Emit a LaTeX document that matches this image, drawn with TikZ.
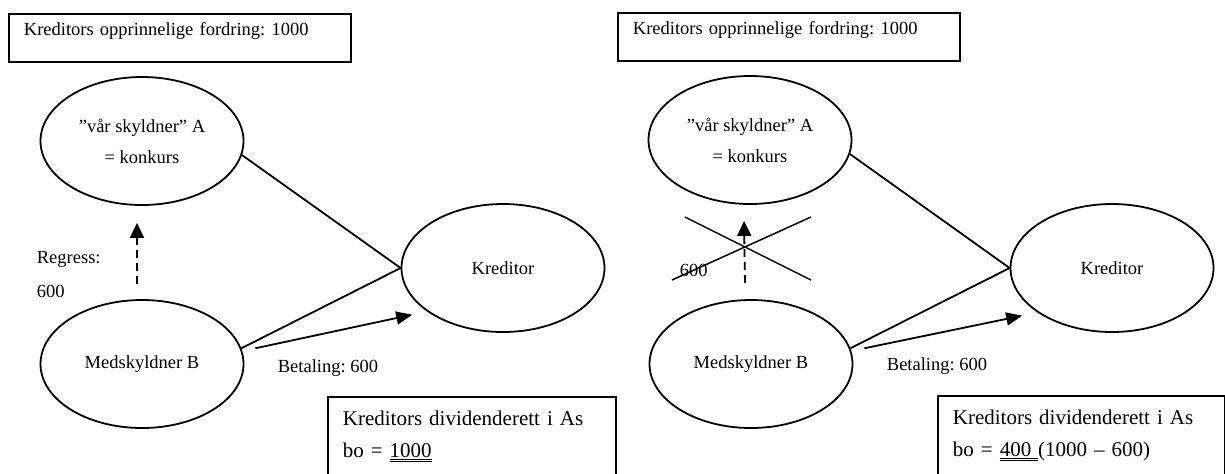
\documentclass[tikz,border=0pt]{standalone}
\usepackage{fontspec}
\setmainfont{Liberation Serif}
\usetikzlibrary{arrows.meta,shapes.geometric}
\frenchspacing

\newcommand{\dbl}[1]{\setbox0\hbox{#1}\leavevmode\rlap{\rule[-1.1pt]{\wd0}{0.5pt}}\rlap{\rule[-2.4pt]{\wd0}{0.5pt}}\box0}

\begin{document}
\begin{tikzpicture}[x=0.5pt, y=-0.5pt, line width=0.9pt,
    every node/.style={font=\fontsize{9.25}{15.5}\selectfont},
    ell/.style={draw, ellipse, minimum width=101.5pt, minimum height=64pt, inner sep=0pt, align=center},
    topbox/.style={draw, anchor=north west, text width=156pt, align=left, inner xsep=7.5pt, inner ysep=4pt, text height=7pt, text depth=9pt},
    divbox/.style={draw, anchor=north west, text width=129pt, align=left, inner xsep=7.5pt, inner ysep=7pt, text depth=40pt, font=\fontsize{10.5}{16}\selectfont},
    lbl/.style={anchor=base west, inner sep=0pt},
    pay/.style={-{Triangle[length=8pt,width=6.5pt]}},
    regress/.style={-{Triangle[length=7.5pt,width=7pt]}, dash pattern=on 4pt off 2.5pt}]
    \useasboundingbox (0,0) rectangle (1225,473);

    % left: regress against A
    \node[topbox] (origL) at (8,13) {Kreditors opprinnelige fordring: 1000};
    \node[ell] (AL) at (142,141) {”vår skyldner” A\\= konkurs};
    \node[ell] (KL) at (503,268) {Kreditor};
    \node[ell] (BL) at (142,364) {Medskyldner B};
    \node[divbox] (divL) at (327,396) {Kreditors dividenderett i As\\bo = \dbl{1000}};
    \node[lbl] (regL) at (36,263) {Regress:};
    \node[lbl] (regnL) at (36,297) {600};
    \node[lbl] (payL) at (277,372) {Betaling: 600};

    \draw (AL.-8) -- (KL.west);
    \draw (BL.9) -- (KL.west);
    \draw[pay] ([xshift=7pt]BL.9) -- ([shift={(-5.5pt,-3pt)}]KL.207);
    \draw[regress] ([xshift=-2.5pt,yshift=7.5pt]BL.north) -- ([xshift=-2.5pt,yshift=-8.5pt]AL.south);

    % right: no regress
    \node[topbox] (origR) at (617,12) {Kreditors opprinnelige fordring: 1000};
    \node[ell] (AR) at (750,140) {”vår skyldner” A\\= konkurs};
    \node[ell] (KR) at (1112,268) {Kreditor};
    \node[ell] (BR) at (751,364) {Medskyldner B};
    \node[divbox, text width=128.5pt] (divR) at (937,395) {Kreditors dividenderett i As\\bo = \dbl{400\ }(1000 -- 600)};
    \node[lbl] (regnR) at (679,276) {600};
    \node[lbl] (payR) at (886,370) {Betaling: 600};

    \draw (AR.-8) -- (KR.west);
    \draw (BR.9) -- (KR.west);
    \draw[pay] ([xshift=7pt]BR.9) -- ([shift={(-5pt,-3.5pt)}]KR.207);
    \draw[regress] ([xshift=-3pt,yshift=8pt]BR.north) -- ([xshift=-3pt,yshift=-8pt]AR.south);

    \draw[line width=0.75pt] (685,217) -- (811,280);
    \draw[line width=0.75pt] (672,280) -- (811,217);
\end{tikzpicture}
\end{document}
